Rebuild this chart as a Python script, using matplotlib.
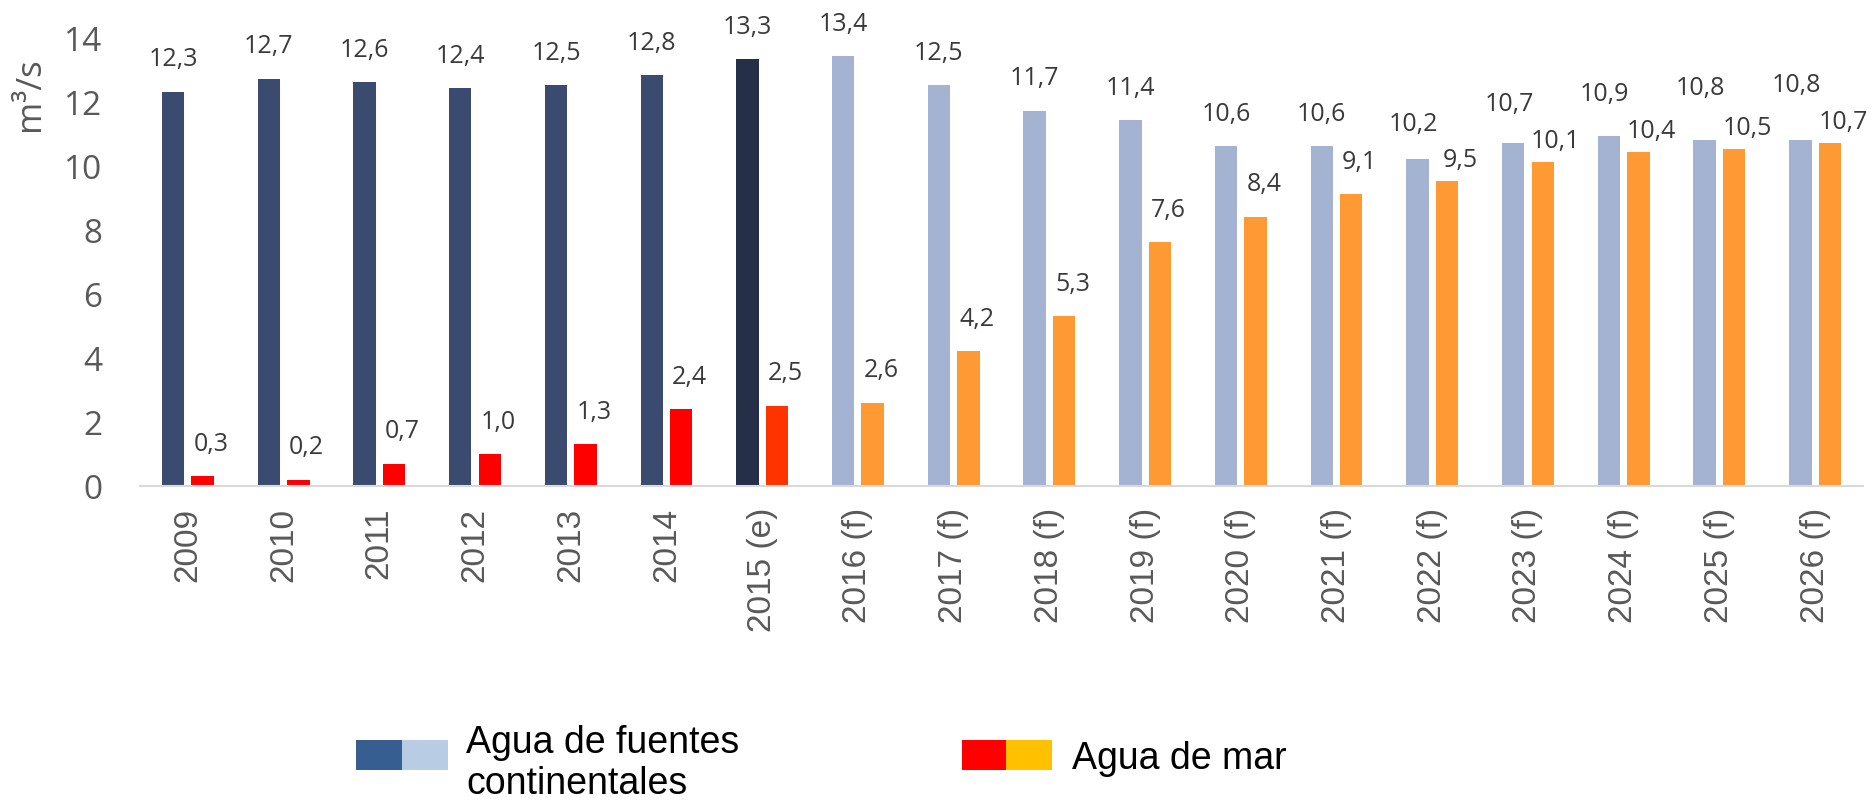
import matplotlib
matplotlib.use("Agg")
import matplotlib.pyplot as plt
import numpy as np
from matplotlib.patches import Rectangle

years = ['2009', '2010', '2011', '2012', '2013', '2014', '2015 (e)',
         '2016 (f)', '2017 (f)', '2018 (f)', '2019 (f)', '2020 (f)', '2021 (f)',
         '2022 (f)', '2023 (f)', '2024 (f)', '2025 (f)', '2026 (f)']
status = ['real'] * 6 + ['est'] + ['fcst'] * 11
continental = [12.3, 12.7, 12.6, 12.4, 12.5, 12.8, 13.3, 13.4, 12.5, 11.7,
               11.4, 10.6, 10.6, 10.2, 10.7, 10.9, 10.8, 10.8]
sea = [0.3, 0.2, 0.7, 1.0, 1.3, 2.4, 2.5, 2.6, 4.2, 5.3, 7.6, 8.4, 9.1,
       9.5, 10.1, 10.4, 10.5, 10.7]
legend_labels = ['Agua de fuentes', 'continentales', 'Agua de mar']

W, H = 1874, 804
CONT = {'real': '#3A4B6F', 'est': '#252F48', 'fcst': '#A5B3D2'}
SEA = {'real': '#FF0000', 'est': '#FF3300', 'fcst': '#FF9933'}
LEGEND_COLORS = ['#365E91', '#B8CCE4', '#FF0000', '#FFC000']
LABEL_FONT = ['Open Sans', 'DejaVu Sans']
LEGEND_FONT = ['Liberation Sans', 'DejaVu Sans']


def fx(px):
    return px / W


def fy(py):
    return 1 - py / H


def fmt(v):
    return f"{v:.1f}".replace('.', ',')


def main():
    fig = plt.figure(figsize=(W / 100, H / 100), dpi=100)
    ax = fig.add_axes([fx(140), fy(487), fx(1863 - 140), (487 - 38) / H])

    x = np.arange(len(years))
    off, bw = 0.154, 0.234
    ax.bar(x - off, continental, width=bw, color=[CONT[s] for s in status])
    ax.bar(x + off, sea, width=bw, color=[SEA[s] for s in status])

    ax.set_xlim(-0.5, len(years) - 0.5)
    ax.set_ylim(0, 14)
    ax.set_yticks(np.arange(0, 15, 2))
    ax.set_xticks(x)
    ax.set_xticklabels(years, rotation=90, family=['Liberation Sans', 'DejaVu Sans'],
                       fontsize=24, color='#595959')
    for lab in ax.get_yticklabels():
        lab.set_family(LABEL_FONT)
        lab.set_fontsize(24)
        lab.set_color('#595959')
    ax.tick_params(axis='x', length=0, pad=15)
    ax.tick_params(axis='y', length=0, pad=27)
    for side in ['top', 'left', 'right']:
        ax.spines[side].set_visible(False)
    ax.spines['bottom'].set_color('#D9D9D9')
    ax.spines['bottom'].set_linewidth(1.5)

    # data labels, nudged apart where the two series get close
    for i in range(len(years)):
        diff = continental[i] - sea[i]
        close = diff < 1.0
        lift = min(16, max(0, 30 * (0.75 - diff)))
        ax.annotate(fmt(continental[i]), (x[i] - off, continental[i]),
                    xytext=(-3 if close else 0, 19 + lift), textcoords='offset points',
                    ha='center', va='baseline', fontsize=18, color='#3A3A3A',
                    family=LABEL_FONT, annotation_clip=False)
        ax.annotate(fmt(sea[i]), (x[i] + off, sea[i]),
                    xytext=(9.5 if close else 6, 11 if close else 19), textcoords='offset points',
                    ha='center', va='baseline', fontsize=18, color='#3A3A3A',
                    family=LABEL_FONT, annotation_clip=False)

    fig.text(fx(30), fy(94), 'm³/s', rotation=90, ha='center', va='center',
             fontsize=25, color='#595959', family=LABEL_FONT)

    # legend: two-tone swatches
    for left, col in zip([356, 402, 962, 1006], LEGEND_COLORS):
        fig.add_artist(Rectangle((fx(left), fy(771)), 46 / W, 30 / H,
                                 transform=fig.transFigure, color=col, lw=0))
    fig.text(fx(466), fy(753), legend_labels[0], ha='left', va='baseline',
             fontsize=27, family=LEGEND_FONT)
    fig.text(fx(466), fy(794), legend_labels[1], ha='left', va='baseline',
             fontsize=27, family=LEGEND_FONT)
    fig.text(fx(1072), fy(769), legend_labels[2], ha='left', va='baseline',
             fontsize=27, family=LEGEND_FONT)

    plt.savefig('out.png', dpi=100)
    plt.close()


if __name__ == "__main__":
    main()
